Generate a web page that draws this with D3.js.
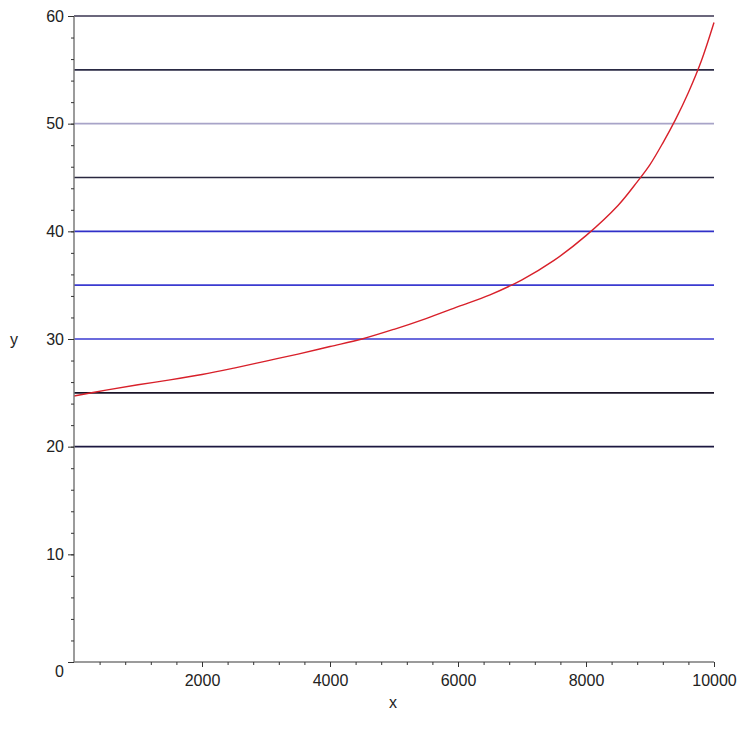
<!DOCTYPE html>
<html>
<head>
<meta charset="utf-8">
<script src="https://cdn.jsdelivr.net/npm/d3@7"></script>
<style>
  body { margin: 0; background: #fff; }
  svg { display: block; }
</style>
</head>
<body>
<div id="chart"></div>
<script>
// horizontal reference levels and their colours
const levels = [20, 25, 30, 35, 40, 45, 50, 55, 60];
const levelColors = ["#1c1840", "#1a1428", "#3a3ad0", "#3a3ad0", "#3030c8", "#2a2840", "#a8a4c8", "#2a2a44", "#3a3450"];

// red curve
const curveX = [0, 500, 1000, 1500, 2000, 2500, 3000, 3500, 4000, 4500, 5000, 5500, 6000, 6500, 7000, 7500, 8000, 8500, 8800, 9000, 9200, 9400, 9600, 9800, 10000];
const curveY = [24.7, 25.25, 25.75, 26.2, 26.7, 27.3, 27.95, 28.6, 29.3, 30.0, 30.9, 31.9, 33.0, 34.1, 35.5, 37.3, 39.6, 42.4, 44.6, 46.2, 48.2, 50.4, 52.9, 55.8, 59.4];

const xTicks = [2000, 4000, 6000, 8000, 10000];
const yTicks = [0, 10, 20, 30, 40, 50, 60];

const width = 741, height = 738;
const margin = { top: 16, right: 27, bottom: 76, left: 74 };

const svg = d3.select("#chart").append("svg")
  .attr("width", width)
  .attr("height", height)
  .style("font-family", "'Liberation Sans', Arial, sans-serif");

const x = d3.scaleLinear().domain([0, 10000]).range([margin.left, width - margin.right]);
const y = d3.scaleLinear().domain([0, 60]).range([height - margin.bottom, margin.top]);

// Horizontal lines
svg.append("g")
  .selectAll("line")
  .data(levels)
  .join("line")
  .attr("x1", x(0))
  .attr("x2", x(10000))
  .attr("y1", d => y(d))
  .attr("y2", d => y(d))
  .attr("stroke", (d, i) => levelColors[i])
  .attr("stroke-width", 1.6);

// Curve
const points = curveX.map((v, i) => [v, curveY[i]]);
svg.append("path")
  .datum(points)
  .attr("fill", "none")
  .attr("stroke", "#d8202a")
  .attr("stroke-width", 1.4)
  .attr("d", d3.line().x(d => x(d[0])).y(d => y(d[1])).curve(d3.curveCatmullRom));

// Axes
const axisColor = "#7a7a7a";

const xAxis = svg.append("g")
  .attr("transform", `translate(0,${y(0)})`)
  .call(d3.axisBottom(x).tickValues(d3.range(400, 10001, 400)).tickSize(3).tickFormat(""));
xAxis.select(".domain").attr("d", `M${x(0)},0H${x(10000)}`);
const xMajor = svg.append("g")
  .attr("transform", `translate(0,${y(0)})`)
  .call(d3.axisBottom(x).tickValues(xTicks).tickSize(5).tickPadding(8).tickFormat(d3.format("d")));
xMajor.select(".domain").remove();

const yAxis = svg.append("g")
  .attr("transform", `translate(${x(0)},0)`)
  .call(d3.axisLeft(y).tickValues(d3.range(2, 60, 2)).tickSize(3).tickFormat(""));
yAxis.select(".domain").attr("d", `M0,${y(0)}V${y(60)}`);
const yMajor = svg.append("g")
  .attr("transform", `translate(${x(0)},0)`)
  .call(d3.axisLeft(y).tickValues(yTicks).tickSize(6).tickPadding(4));
yMajor.select(".domain").remove();

svg.selectAll(".tick line").attr("stroke", "#333");
svg.selectAll(".domain").attr("stroke", axisColor).attr("stroke-width", 1.5);
svg.selectAll(".tick text")
  .attr("fill", "#222")
  .style("font-size", "16px");

// 0 label sits a bit lower than the others
yMajor.selectAll(".tick text").filter(d => d === 0).attr("dy", "0.9em");

// Axis titles
svg.append("text")
  .attr("x", 14)
  .attr("y", y(30) + 6)
  .attr("text-anchor", "middle")
  .style("font-size", "16px")
  .attr("fill", "#222")
  .text("y");

svg.append("text")
  .attr("x", 393)
  .attr("y", 708)
  .attr("text-anchor", "middle")
  .style("font-size", "16px")
  .attr("fill", "#222")
  .text("x");
</script>
</body>
</html>
